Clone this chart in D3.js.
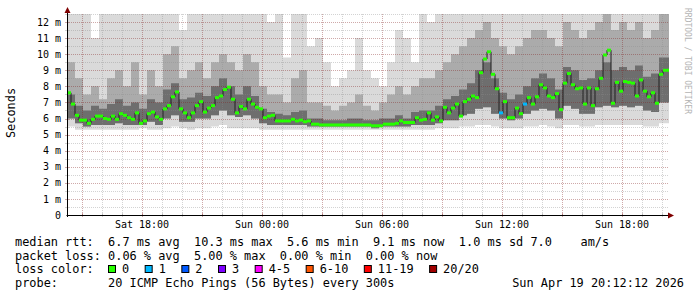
<!DOCTYPE html>
<html>
<head>
<meta charset="utf-8">
<script src="https://cdn.jsdelivr.net/npm/d3@7"></script>
<style>
  body { margin: 0; background: #fff; }
  text { font-family: "DejaVu Sans Mono", monospace; }
</style>
</head>
<body>
<svg id="chart" width="697" height="297"></svg>
<script>
"use strict";

// time window (local time), Sat 14:15 -> Sun 20:21
var startTime = new Date(2026, 3, 18, 14, 15);
var endTime = new Date(2026, 3, 19, 20, 21);

// median rtt in ms, one value every 12 minutes
var medianStep = 12;
var medianMs = [
  7.6, 6.9, 6.2, 5.9, 5.9, 5.7, 5.95, 6.15, 6.15, 6.0,
  5.95, 6.15, 5.95, 6.3, 6.2, 6.05, 5.95, 6.35, 5.7, 5.85,
  6.3, 6.4, 6.1, 5.95, 6.6, 6.8, 7.35, 7.65, 6.6, 6.35,
  6.05, 6.35, 6.8, 7.05, 6.4, 6.65, 6.8, 7.3, 7.4, 7.8,
  7.95, 7.2, 6.35, 6.75, 6.6, 7.2, 6.9, 6.7, 6.6, 6.05,
  6.15, 6.2, 5.85, 5.85, 5.85, 5.85, 5.95, 5.85, 5.9, 5.8,
  5.85, 5.65, 5.65, 5.6, 5.6, 5.6, 5.6, 5.6, 5.6, 5.6,
  5.6, 5.6, 5.6, 5.6, 5.6, 5.6, 5.55, 5.55, 5.55, 5.65,
  5.65, 5.65, 5.7, 5.85, 5.75, 5.75, 5.75, 6.05, 5.9, 5.95,
  6.35, 5.9, 6.1, 5.85, 6.7, 6.35, 6.65, 6.9, 6.15, 7.05,
  7.2, 7.4, 7.3, 8.85, 9.7, 10.15, 8.75, 7.85, 6.35, 7.05,
  6.05, 6.05, 6.65, 6.3, 6.9, 7.3, 6.9, 7.35, 8.1, 7.9,
  7.4, 7.3, 7.55, 6.55, 8.2, 8.8, 8.1, 7.85, 7.9, 6.9,
  7.9, 6.8, 7.85, 8.5, 9.95, 10.25, 6.95, 8.25, 7.7, 8.3,
  8.25, 8.2, 7.4, 8.4, 7.7, 7.35, 7.6, 6.95, 8.75, 9.0,
  9.0
];
// lost pings (of 20) for each median step
var lossCount = [
  0,0,0,0,0,0,0,0,0,0, 0,0,0,0,0,0,0,0,0,0, 0,0,0,0,0,0,0,0,0,0,
  0,0,0,0,0,0,0,0,0,0, 0,0,0,0,0,0,0,0,0,0, 0,0,0,0,0,0,0,0,0,0,
  0,0,0,0,0,0,0,0,0,0, 0,0,0,0,0,0,0,0,0,0, 0,0,0,0,0,0,0,0,0,0,
  0,0,0,0,0,0,0,0,0,0, 0,0,0,0,0,0,0,0,1,0, 0,0,0,0,1,0,0,0,0,0,
  0,0,0,0,0,0,0,0,0,0, 0,0,0,0,0,0,0,0,0,0, 0,0,0,0,0,0,0,0,0,0,
  0
];

// smoke, one column every 24 minutes (ms)
var smokeStep = 24;
var smokeMin = [
  5.5, 5.3, 5.3, 5.3, 5.3, 5.3, 5.3, 5.3, 5.3, 5.4,
  5.3, 5.3, 5.4, 5.5, 5.4, 5.3, 5.4, 5.4, 5.5, 5.6,
  5.4, 5.4, 5.4, 5.4, 5.3, 5.3, 5.3, 5.3, 5.3, 5.3,
  5.3, 5.3, 5.3, 5.3, 5.3, 5.3, 5.3, 5.3, 5.3, 5.3,
  5.3, 5.3, 5.3, 5.3, 5.3, 5.3, 5.4, 5.4, 5.4, 5.5,
  5.5, 5.6, 5.6, 5.5, 5.4, 5.4, 5.4, 5.5, 5.5, 5.6,
  5.5, 5.4, 5.6, 5.6, 5.5, 5.5, 5.6, 5.6, 5.6, 5.6,
  5.6, 5.6, 5.5, 5.5, 5.7, 5.7
];
var smokeLow = [
  6.0, 5.7, 5.5, 5.6, 5.6, 5.6, 5.7, 5.6, 5.6, 5.6,
  5.8, 5.6, 6.0, 6.2, 5.8, 5.8, 6.0, 6.0, 6.2, 6.5,
  6.2, 6.1, 6.2, 6.0, 5.7, 5.6, 5.6, 5.6, 5.6, 5.6,
  5.5, 5.5, 5.5, 5.5, 5.5, 5.5, 5.5, 5.5, 5.4, 5.5,
  5.5, 5.5, 5.5, 5.6, 5.6, 5.6, 5.7, 5.9, 5.9, 6.2,
  6.3, 6.6, 6.7, 6.3, 6.0, 5.9, 6.0, 6.3, 6.5, 6.6,
  6.5, 6.0, 6.8, 6.6, 6.3, 6.3, 6.7, 6.8, 6.7, 6.8,
  6.7, 6.8, 6.5, 6.4, 7.0, 7.0
];
var smokeMid = [
  7.5, 6.8, 6.5, 6.8, 6.6, 6.9, 7.2, 6.8, 7.0, 6.6,
  7.2, 7.0, 7.8, 8.2, 7.2, 7.3, 7.6, 7.4, 8.0, 8.5,
  8.0, 7.5, 8.0, 7.4, 6.6, 6.4, 6.3, 6.2, 6.4, 6.5,
  6.0, 6.0, 5.9, 5.9, 5.9, 6.0, 6.0, 5.9, 5.9, 6.0,
  6.0, 6.2, 6.0, 6.4, 6.5, 6.5, 6.8, 7.2, 7.4, 7.8,
  8.2, 9.0, 9.5, 8.5, 7.6, 7.2, 7.5, 8.0, 8.5, 8.8,
  8.5, 7.8, 9.2, 9.0, 8.4, 8.5, 9.0, 9.5, 9.0, 9.2,
  9.0, 9.3, 8.6, 8.8, 9.8, 9.8
];
var smokeHigh = [
  9.5, 8.5, 7.5, 8.0, 7.2, 8.5, 9.0, 8.0, 9.5, 7.5,
  9.0, 8.0, 10.0, 10.5, 8.5, 9.0, 9.5, 8.5, 9.5, 10.0,
  9.5, 9.0, 10.0, 9.5, 8.0, 7.5, 7.5, 7.0, 8.5, 9.0,
  7.0, 7.0, 6.8, 6.5, 6.8, 7.0, 7.5, 6.8, 6.5, 7.0,
  7.5, 8.0, 7.5, 8.0, 8.5, 8.5, 9.0, 9.5, 10.0, 10.5,
  11.0, 11.5, 12.0, 11.0, 10.5, 10.0, 10.5, 11.0, 11.5, 11.5,
  11.0, 10.5, 12.0, 11.5, 11.0, 11.5, 12.0, 12.5, 11.5, 12.0,
  11.5, 12.0, 11.0, 11.5, 12.5, 12.5
];
var smokeMax = [
  12.5, 12.5, 12.5, 11.0, 12.5, 12.5, 12.5, 12.5, 12.5, 12.5,
  12.5, 12.5, 12.5, 12.5, 11.5, 12.5, 12.5, 12.5, 12.5, 12.5,
  12.5, 12.5, 12.5, 12.5, 12.5, 12.0, 12.5, 9.8, 12.5, 12.5,
  10.5, 11.0, 9.5, 8.0, 8.5, 9.0, 11.0, 9.0, 8.5, 8.0,
  9.5, 11.5, 11.0, 9.5, 12.5, 12.0, 12.5, 12.5, 12.5, 12.5,
  12.5, 12.5, 12.5, 12.5, 12.5, 12.5, 12.5, 12.5, 12.5, 12.5,
  12.5, 12.5, 12.5, 12.5, 12.5, 12.5, 12.5, 12.5, 12.5, 12.5,
  12.5, 12.5, 12.5, 12.5, 12.5, 12.5
];

var yTicks = [0, 1, 2, 3, 4, 5, 6, 7, 8, 9, 10, 11, 12];
var xTickLabels = ["Sat 18:00", "Sun 00:00", "Sun 06:00", "Sun 12:00", "Sun 18:00"];

var lossLabels = ["0", "1", "2", "3", "4-5", "6-10", "11-19", "20/20"];
var lossColors = ["#26ff00", "#00b8ff", "#0059ff", "#7e00ff", "#ff00ff", "#ff5500", "#ff0000", "#a10000"];
var lossMax = [0, 1, 2, 3, 5, 10, 19, 20];

var legendRtt = "median rtt:  6.7 ms avg  10.3 ms max  5.6 ms min  9.1 ms now  1.0 ms sd 7.0    am/s";
var legendLoss = "packet loss: 0.06 % avg  5.00 % max  0.00 % min  0.00 % now";
var legendProbe = "probe:       20 ICMP Echo Pings (56 Bytes) every 300s";
var legendDate = "Sun Apr 19 20:12:12 2026";

function minutesAfter(m) {
  return new Date(startTime.getTime() + m * 60000);
}

function drawChart() {
  var left = 67, right = 669, top = 14, bottom = 215;
  var svg = d3.select("#chart");

  var x = d3.scaleTime().domain([startTime, endTime]).range([left, right]);
  var y = d3.scaleLinear().domain([0, 12.5]).range([bottom, top]);

  svg.append("defs").append("clipPath").attr("id", "plot")
    .append("rect").attr("x", left).attr("y", top)
    .attr("width", right - left).attr("height", bottom - top);

  // smoke columns
  var cols = smokeMin.map(function(d, i) {
    return { t: minutesAfter(i * smokeStep), min: d, low: smokeLow[i], mid: smokeMid[i], high: smokeHigh[i], max: smokeMax[i] };
  });
  var last = cols[cols.length - 1];
  cols.push({ t: endTime, min: last.min, low: last.low, mid: last.mid, high: last.high, max: last.max });

  var smoke = svg.append("g").attr("clip-path", "url(#plot)");
  var bands = [
    { lo: "min", hi: "max", color: "#dadada" },
    { lo: "low", hi: "high", color: "#ababab" },
    { lo: "low", hi: "mid", color: "#6e6e6e" }
  ];
  bands.forEach(function(b) {
    var area = d3.area()
      .curve(d3.curveStepAfter)
      .x(function(d) { return x(d.t); })
      .y0(function(d) { return y(d[b.lo]); })
      .y1(function(d) { return y(d[b.hi]); });
    smoke.append("path").datum(cols).attr("fill", b.color).attr("d", area);
  });

  // grid
  var grid = svg.append("g");
  d3.range(1, 26).forEach(function(i) {
    var v = i * 0.5;
    grid.append("line")
      .attr("x1", left).attr("x2", right)
      .attr("y1", Math.round(y(v)) + 0.5).attr("y2", Math.round(y(v)) + 0.5)
      .attr("stroke", i % 2 === 0 ? "rgba(130,30,30,0.38)" : "rgba(140,140,140,0.38)")
      .attr("stroke-dasharray", "1,1");
    grid.append("line")
      .attr("x1", left - 2).attr("x2", left + 2)
      .attr("y1", Math.round(y(v)) + 0.5).attr("y2", Math.round(y(v)) + 0.5)
      .attr("stroke", i % 2 === 0 ? "rgba(130,30,30,0.38)" : "rgba(140,140,140,0.38)");
  });
  var hours = d3.timeHour.range(d3.timeHour.ceil(startTime), endTime);
  hours.forEach(function(h) {
    var major = h.getHours() % 3 === 0;
    var px = Math.round(x(h)) + 0.5;
    grid.append("line")
      .attr("x1", px).attr("x2", px)
      .attr("y1", top).attr("y2", bottom)
      .attr("stroke", major ? "rgba(130,30,30,0.38)" : "rgba(140,140,140,0.38)")
      .attr("stroke-dasharray", "1,1");
    grid.append("line")
      .attr("x1", px).attr("x2", px)
      .attr("y1", bottom - 2).attr("y2", bottom + 2)
      .attr("stroke", major ? "rgba(130,30,30,0.38)" : "rgba(140,140,140,0.38)");
  });

  // median
  var med = medianMs.map(function(d, i) {
    return { t: minutesAfter(i * medianStep), v: d, loss: lossCount[i] || 0 };
  });
  med.forEach(function(d, i) {
    d.t2 = i < med.length - 1 ? med[i + 1].t : endTime;
  });
  var stepLine = d3.line()
    .curve(d3.curveStepAfter)
    .x(function(d) { return x(d.t); })
    .y(function(d) { return y(d.v); });
  var plot = svg.append("g").attr("clip-path", "url(#plot)");
  plot.append("path").datum(med)
    .attr("fill", "none").attr("stroke", "#202020").attr("stroke-width", 1)
    .attr("d", stepLine);
  plot.selectAll("line.med").data(med).enter().append("line")
    .attr("class", "med")
    .attr("x1", function(d) { return x(d.t); })
    .attr("x2", function(d) { return x(d.t2); })
    .attr("y1", function(d) { return y(d.v); })
    .attr("y2", function(d) { return y(d.v); })
    .attr("stroke", function(d) {
      var k = lossMax.findIndex(function(m) { return d.loss <= m; });
      return lossColors[k];
    })
    .attr("stroke-width", 3);

  // axes
  svg.append("line").attr("x1", left - 0.5).attr("x2", right + 1)
    .attr("y1", bottom + 0.5).attr("y2", bottom + 0.5).attr("stroke", "#000");
  svg.append("line").attr("x1", left + 0.5).attr("x2", left + 0.5)
    .attr("y1", bottom + 2).attr("y2", top - 2).attr("stroke", "#000");
  svg.append("path").attr("fill", "#7f0000")
    .attr("d", "M" + (right - 1) + "," + (bottom - 2.5) + "L" + (right + 5) + "," + (bottom + 0.5) + "L" + (right - 1) + "," + (bottom + 3.5) + "Z");
  svg.append("path").attr("fill", "#7f0000")
    .attr("d", "M" + (left - 2.5) + "," + (top - 1) + "L" + (left + 0.5) + "," + (top - 7) + "L" + (left + 3.5) + "," + (top - 1) + "Z");

  svg.selectAll("text.ytick").data(yTicks).enter().append("text")
    .attr("class", "ytick")
    .attr("x", 61).attr("y", function(d) { return y(d); })
    .attr("dy", "0.36em")
    .attr("text-anchor", "end")
    .style("font-size", "10px")
    .text(function(d) { return d === 0 ? "0" : d + " m"; });

  var labelTimes = hours.filter(function(h) { return h.getHours() % 6 === 0; });
  svg.selectAll("text.xtick").data(labelTimes).enter().append("text")
    .attr("class", "xtick")
    .attr("x", function(d) { return x(d); })
    .attr("y", 227.5)
    .attr("text-anchor", "middle")
    .style("font-size", "10px")
    .text(function(d, i) { return xTickLabels[i]; });

  svg.append("text")
    .attr("transform", "translate(15,113) rotate(-90)")
    .attr("text-anchor", "middle")
    .style("font-size", "11.9px")
    .text("Seconds");

  svg.append("text")
    .attr("transform", "translate(685,61) rotate(90)")
    .attr("text-anchor", "middle")
    .attr("fill", "#b4b4b4")
    .style("font-size", "8px")
    .text("RRDTOOL / TOBI OETIKER");

  // legend
  var lx = 15;
  [[legendRtt, 245.8], [legendLoss, 259.5], [legendProbe, 287.2]].forEach(function(r) {
    svg.append("text").attr("x", lx).attr("y", r[1])
      .attr("xml:space", "preserve")
      .style("font-size", "11.9px")
      .style("white-space", "pre")
      .text(r[0]);
  });
  svg.append("text").attr("x", 684).attr("y", 287.2)
    .attr("text-anchor", "end")
    .style("font-size", "11.9px")
    .text(legendDate);
  svg.append("text").attr("x", lx).attr("y", 273.3)
    .style("font-size", "11.9px")
    .text("loss color:");

  var bx = 108;
  lossLabels.forEach(function(lab, i) {
    svg.append("rect")
      .attr("x", bx + 0.5).attr("y", 265.5)
      .attr("width", 7).attr("height", 7)
      .attr("fill", lossColors[i])
      .attr("stroke", "#000").attr("stroke-width", 1);
    var t = svg.append("text").attr("x", bx + 14).attr("y", 273.3)
      .style("font-size", "11.9px")
      .text(lab);
    bx = bx + 14 + t.node().getComputedTextLength() + 15.5;
  });
}

window.addEventListener("load", function() {
  drawChart();
});
</script>
</body>
</html>
